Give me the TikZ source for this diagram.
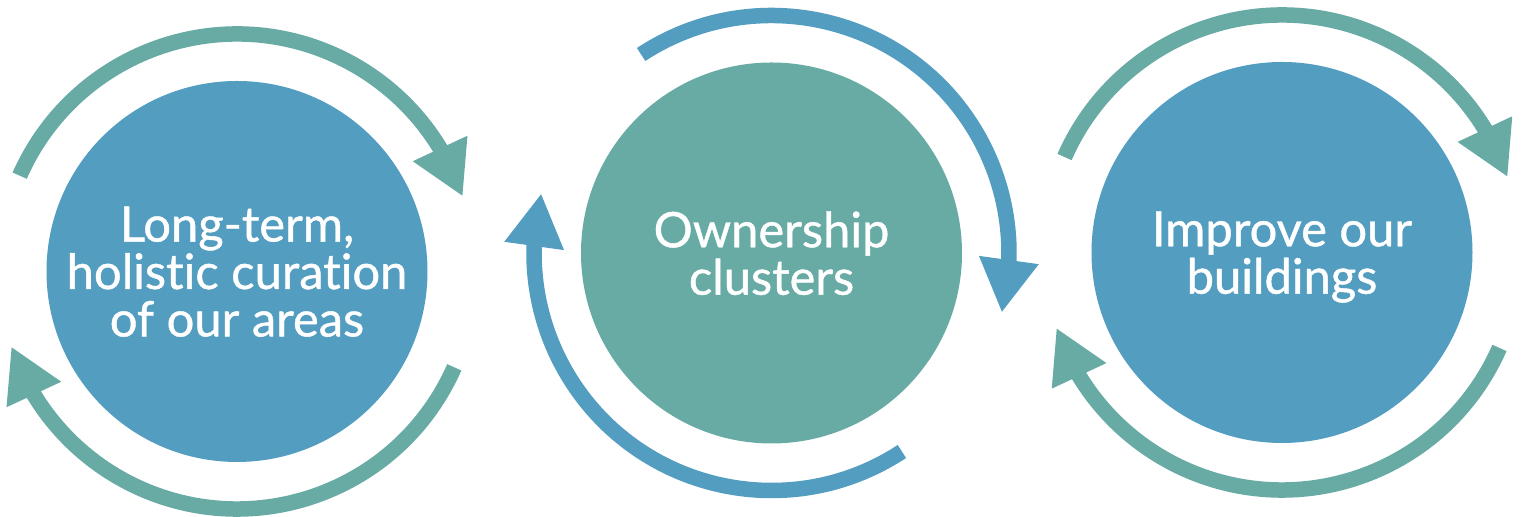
\documentclass[tikz,border=0pt]{standalone}
\usepackage{fontspec}
\setmainfont{Lato}
\newfontfamily\discfont{Lato}[FakeBold=0.9, Ligatures=NoCommon]
\definecolor{capblue}{HTML}{529DC0}
\definecolor{capteal}{HTML}{68ABA5}

\begin{document}
\begin{tikzpicture}[x=0.1mm, y=0.1mm,
    disc/.style={circle, minimum size=38.1mm, inner sep=0pt, align=center,
        text=white, text depth=0pt, font=\discfont\fontsize{13.9}{13.5}\selectfont},
    ring/.style={line width=1.55mm}]
    \path[use as bounding box, fill=white] (0,0) rectangle (1522,517);
    \begin{scope}[shift={(237,245.5)}]
        \node[disc, fill=capblue] (areas) at (0,0) {Long-term,\\holistic curation\\of our areas};
        \foreach \a in {0,180} {
            \draw[ring, capteal] (areas.center) ++(156.2+\a:237.5)
                arc[start angle=156.2+\a, delta angle=-126.5, radius=237.5];
            \fill[capteal] (areas.center) +(32.1+\a:207.5) -- +(30.5+\a:267.5)
                -- +(18.6+\a:237.8) -- cycle;
        }
    \end{scope}
    \begin{scope}[shift={(771.5,264)}]
        \node[disc, fill=capteal] (clusters) at (0,0) {Ownership\\clusters};
        \foreach \a in {0,180} {
            \draw[ring, capblue] (clusters.center) ++(123.3+\a:237.5)
                arc[start angle=123.3+\a, delta angle=-126.5, radius=237.5];
            \fill[capblue] (clusters.center) +(-0.8+\a:207.5) -- +(-2.4+\a:267.5)
                -- +(-14.3+\a:237.8) -- cycle;
        }
    \end{scope}
    \begin{scope}[shift={(1282,264.5)}]
        \node[disc, fill=capblue] (buildings) at (0,0) {Improve our\\buildings};
        \foreach \a in {0,180} {
            \draw[ring, capteal] (buildings.center) ++(156.3+\a:237.5)
                arc[start angle=156.3+\a, delta angle=-126.5, radius=237.5];
            \fill[capteal] (buildings.center) +(32.2+\a:207.5) -- +(30.6+\a:267.5)
                -- +(18.7+\a:237.8) -- cycle;
        }
    \end{scope}
\end{tikzpicture}
\end{document}
